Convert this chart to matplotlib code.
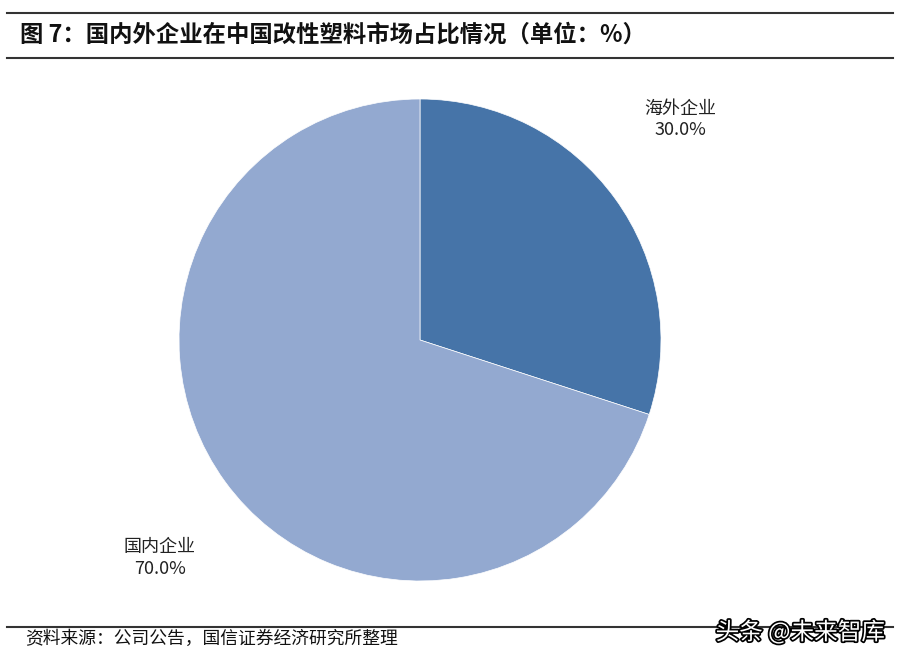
import matplotlib
matplotlib.use("Agg")
import matplotlib.pyplot as plt
import matplotlib.patheffects as pe

plt.rcParams['font.family'] = ['Noto Sans CJK SC', 'DejaVu Sans']

title = "图 7：国内外企业在中国改性塑料市场占比情况（单位：%）"
source = "资料来源：公司公告，国信证券经济研究所整理"
labels = ["海外企业", "国内企业"]
values = [30.0, 70.0]
colors = ["#4674A8", "#93A9D0"]

fig = plt.figure(figsize=(9.02, 6.62), dpi=100)

# frame lines
for y in [1 - 13 / 662, 1 - 58 / 662, 1 - 627 / 662]:
    fig.add_artist(plt.Line2D([7 / 902, 893 / 902], [y, y], color="#333333", lw=1.5))

fig.text(20 / 902, 1 - 35 / 662, title, fontsize=16.8, fontweight="bold",
         va="center", ha="left", color="#111111")
fig.text(25 / 902, 1 - 639 / 662, source, fontsize=12.8, va="center", ha="left",
         color="#111111")
fig.text(885 / 902, 1 - 632 / 662, "头条 @未来智库", fontsize=17, va="center", ha="right",
         color="white",
         path_effects=[pe.withStroke(linewidth=2.5, foreground="black")])

# pie axes: center (420,340), radius 241 px
r = 241
ax = fig.add_axes([(420 - r) / 902, 1 - (340 + r) / 662, 2 * r / 902, 2 * r / 662])
wedges, _ = ax.pie(values, colors=colors, startangle=90, counterclock=False,
                   wedgeprops=dict(linewidth=0.5, edgecolor="white"))
ax.set_xlim(-1, 1)
ax.set_ylim(-1, 1)
ax.set_aspect("equal")
ax.axis("off")

label_pos = [(1.079, 0.915), (-1.079, -0.905)]
for lab, val, (x, y) in zip(labels, values, label_pos):
    ax.text(x, y, f"{lab}\n{val:.1f}%", ha="center", va="center", fontsize=13,
            color="#222222", linespacing=1.25, clip_on=False)

fig.savefig("out.png", dpi=100)
